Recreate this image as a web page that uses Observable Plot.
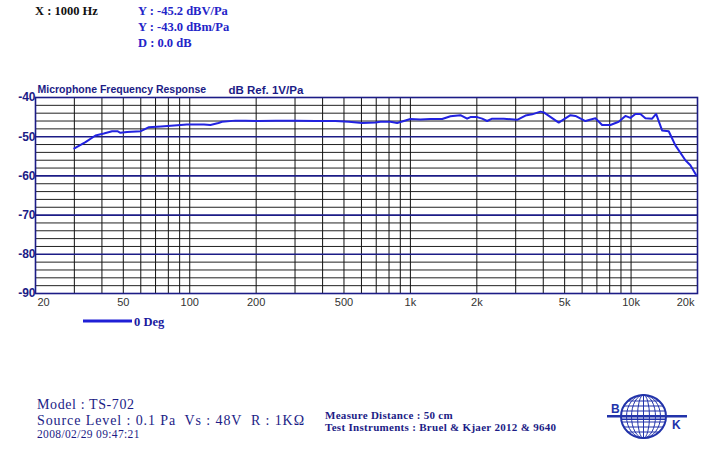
<!DOCTYPE html>
<html><head><meta charset="utf-8">
<script src="https://cdn.jsdelivr.net/npm/d3@7"></script>
<script src="https://cdn.jsdelivr.net/npm/@observablehq/plot@0.6"></script>
<style>
body{margin:0;background:#fff;}
#wrap{position:relative;width:720px;height:470px;overflow:hidden;background:#fff;}
#wrap > svg{position:absolute;left:0;top:0;}
</style></head><body><div id="wrap"></div>
<script>
// ---- data ----
const freqs = [30,33.7,37.4,40.8,44.5,47,48.5,52,60,62,65,74,88,97,116,124,135,140,161,179,205,245,301,371,457,526,604,694,732,812,871,933,1000,1110,1232,1393,1519,1685,1807,1871,2006,2114,2228,2346,2648,3046,3322,3562,3884,4020,4700,5312,5596,6210,6892,7392,8060,8790,9426,9930,10462,11022,11612,12454,12986,13822,14812,15882,17630,18572,19712];
const levels = [-53.0,-51.4,-49.7,-49.2,-48.6,-48.6,-49.0,-48.8,-48.6,-48.2,-47.6,-47.4,-47.1,-46.9,-46.9,-47.0,-46.5,-46.2,-45.9,-45.9,-46.0,-45.9,-45.9,-46.0,-46.0,-46.2,-46.5,-46.4,-46.2,-46.2,-46.5,-46.0,-45.5,-45.6,-45.5,-45.5,-44.8,-44.5,-45.4,-45.0,-45.0,-45.4,-46.0,-45.4,-45.4,-45.7,-44.6,-44.3,-43.6,-43.8,-46.4,-44.5,-44.7,-46.0,-45.3,-47.0,-47.0,-46.2,-44.7,-45.2,-44.2,-44.2,-45.3,-45.4,-44.2,-48.4,-48.6,-52.2,-56.0,-57.3,-59.8];
const seriesName = "0 Deg";
const xTicks = [20,50,100,200,500,1000,2000,5000,10000,20000];
const xTickLabels = ["20","50","100","200","500","1k","2k","5k","10k","20k"];
const yTicks = [-40,-50,-60,-70,-80,-90];
const xGrid = [30,40,50,60,70,80,90,100,200,300,400,500,600,700,800,900,1000,2000,3000,4000,5000,6000,7000,8000,9000,10000];
const yMinor = [-42,-44,-46,-48,-52,-54,-56,-58,-62,-64,-66,-68,-72,-74,-76,-78,-82,-84,-86,-88];
const yMajor = [-50,-60,-70,-80];
const chartTitle = "Microphone Frequency Response";
const unitLabel = "dB Ref. 1V/Pa";
const readoutX = "X : 1000 Hz";
const readoutY = ["Y : -45.2 dBV/Pa", "Y : -43.0 dBm/Pa", "D : 0.0 dB"];
const footerLeft = ["Model : TS-702", "Source Level : 0.1 Pa  Vs : 48V  R : 1K\u03A9", "2008/02/29 09:47:21"];
const footerMid = ["Measure Distance : 50 cm", "Test Instruments : Bruel & Kjaer 2012 & 9640"];

// ---- chart ----
const data = freqs.map((f, i) => ({f, db: levels[i]}));
const navy = "#1c1c86";
const sans = "'Liberation Sans', Arial, sans-serif";
const serif = "'Liberation Serif', 'Times New Roman', serif";
const n = xTicks.length;

const chart = Plot.plot({
  width: 720, height: 470,
  marginTop: 97, marginBottom: 177, marginLeft: 35, marginRight: 23,
  x: {type: "log", domain: [20, 20000], axis: null},
  y: {domain: [-90, -40], axis: null},
  style: {background: "transparent", overflow: "visible"},
  marks: [
    Plot.ruleY(yMinor, {stroke: "#222", strokeWidth: 1}),
    Plot.ruleX(xGrid, {stroke: "#111", strokeWidth: 1}),
    Plot.ruleY(yMajor, {stroke: navy, strokeWidth: 1.6}),
    Plot.frame({stroke: navy, strokeWidth: 1.6}),
    Plot.line(data, {x: "f", y: "db", stroke: "#2222e0", strokeWidth: 2}),
    Plot.text(yTicks, {x: 20, y: d => d, text: d => String(d), textAnchor: "end", dx: 0, fill: navy, fontWeight: "bold", fontSize: 12, fontFamily: sans}),
    Plot.text(xTicks, {filter: (d, i) => i > 0 && i < n - 1, x: d => d, y: -90, text: (d, i) => xTickLabels[i], dy: 9, fill: "#333", fontSize: 11, fontFamily: sans}),
    Plot.text(xTicks, {filter: (d, i) => i === 0, x: d => d, y: -90, text: (d, i) => xTickLabels[i], dy: 9, dx: 2, textAnchor: "start", fill: "#333", fontSize: 11, fontFamily: sans}),
    Plot.text(xTicks, {filter: (d, i) => i === n - 1, x: d => d, y: -90, text: (d, i) => xTickLabels[i], dy: 9, dx: -3, textAnchor: "end", fill: "#333", fontSize: 11, fontFamily: sans}),
    Plot.text([chartTitle], {frameAnchor: "top-left", text: d => d, dx: 2, dy: -12, fill: navy, fontWeight: "bold", fontSize: 10.5, fontFamily: sans}),
    Plot.text([unitLabel], {frameAnchor: "top-left", text: d => d, dx: 193, dy: -12, fill: navy, fontWeight: "bold", fontSize: 11.5, fontFamily: sans})
  ]
});
const wrap = document.getElementById("wrap");
wrap.appendChild(chart);

// ---- annotations overlay ----
const ov = d3.select(wrap).append("svg").attr("width", 720).attr("height", 470).style("pointer-events", "none");
function txt(x, y, s, size, fill, weight, fam, ls) {
  ov.append("text").attr("x", x).attr("y", y).text(s)
    .attr("font-size", size).attr("fill", fill).attr("font-weight", weight || "normal")
    .attr("font-family", fam || serif).attr("letter-spacing", ls || 0)
    .attr("xml:space", "preserve").style("white-space", "pre");
}
txt(35, 15, readoutX, 12.5, "#111", "bold");
readoutY.forEach((s, i) => txt(138, 15 + i * 16, s, 12.5, "#2424c8", "bold"));

// legend
ov.append("line").attr("x1", 83).attr("x2", 132).attr("y1", 321).attr("y2", 321).attr("stroke", "#1f1fd6").attr("stroke-width", 3);
txt(134, 325.5, seriesName, 12.5, "#1a1aa0", "bold");

// footer
txt(37, 408.5, footerLeft[0], 14, navy, "normal", serif, 0.6);
txt(37, 424.5, footerLeft[1], 14, navy, "normal", serif, 0.9);
txt(37, 438, footerLeft[2], 11.5, navy, "normal", serif, 0.35);
txt(325, 419, footerMid[0], 11, navy, "bold", serif, 0.3);
txt(325, 431, footerMid[1], 11, navy, "bold", serif, 0.3);

// logo
const lc = "#2233aa";
const g = ov.append("g");
g.append("ellipse").attr("cx", 643.5).attr("cy", 416.5).attr("rx", 22.5).attr("ry", 21.5).attr("fill", "none").attr("stroke", lc).attr("stroke-width", 2);
[6, 12, 17].forEach(r => g.append("ellipse").attr("cx", 643.5).attr("cy", 416.5).attr("rx", r).attr("ry", 21.5).attr("fill", "none").attr("stroke", lc).attr("stroke-width", 1));
g.append("line").attr("x1", 643.5).attr("x2", 643.5).attr("y1", 395).attr("y2", 438).attr("stroke", lc).attr("stroke-width", 1);
[401, 406, 411, 422, 427, 432].forEach(y => {
  const dy = y - 416.5, hw = 22.5 * Math.sqrt(Math.max(0, 1 - (dy * dy) / (21.5 * 21.5)));
  g.append("line").attr("x1", 643.5 - hw).attr("x2", 643.5 + hw).attr("y1", y).attr("y2", y).attr("stroke", lc).attr("stroke-width", 1.2);
});
g.append("rect").attr("x", 607).attr("y", 415).attr("width", 80).attr("height", 2.5).attr("fill", lc);
g.append("rect").attr("x", 621).attr("y", 418.5).attr("width", 45).attr("height", 1.5).attr("fill", lc);
txt(611, 413, "B", 12, lc, "bold", sans);
txt(672, 429, "K", 12, lc, "bold", sans);
</script></body></html>
